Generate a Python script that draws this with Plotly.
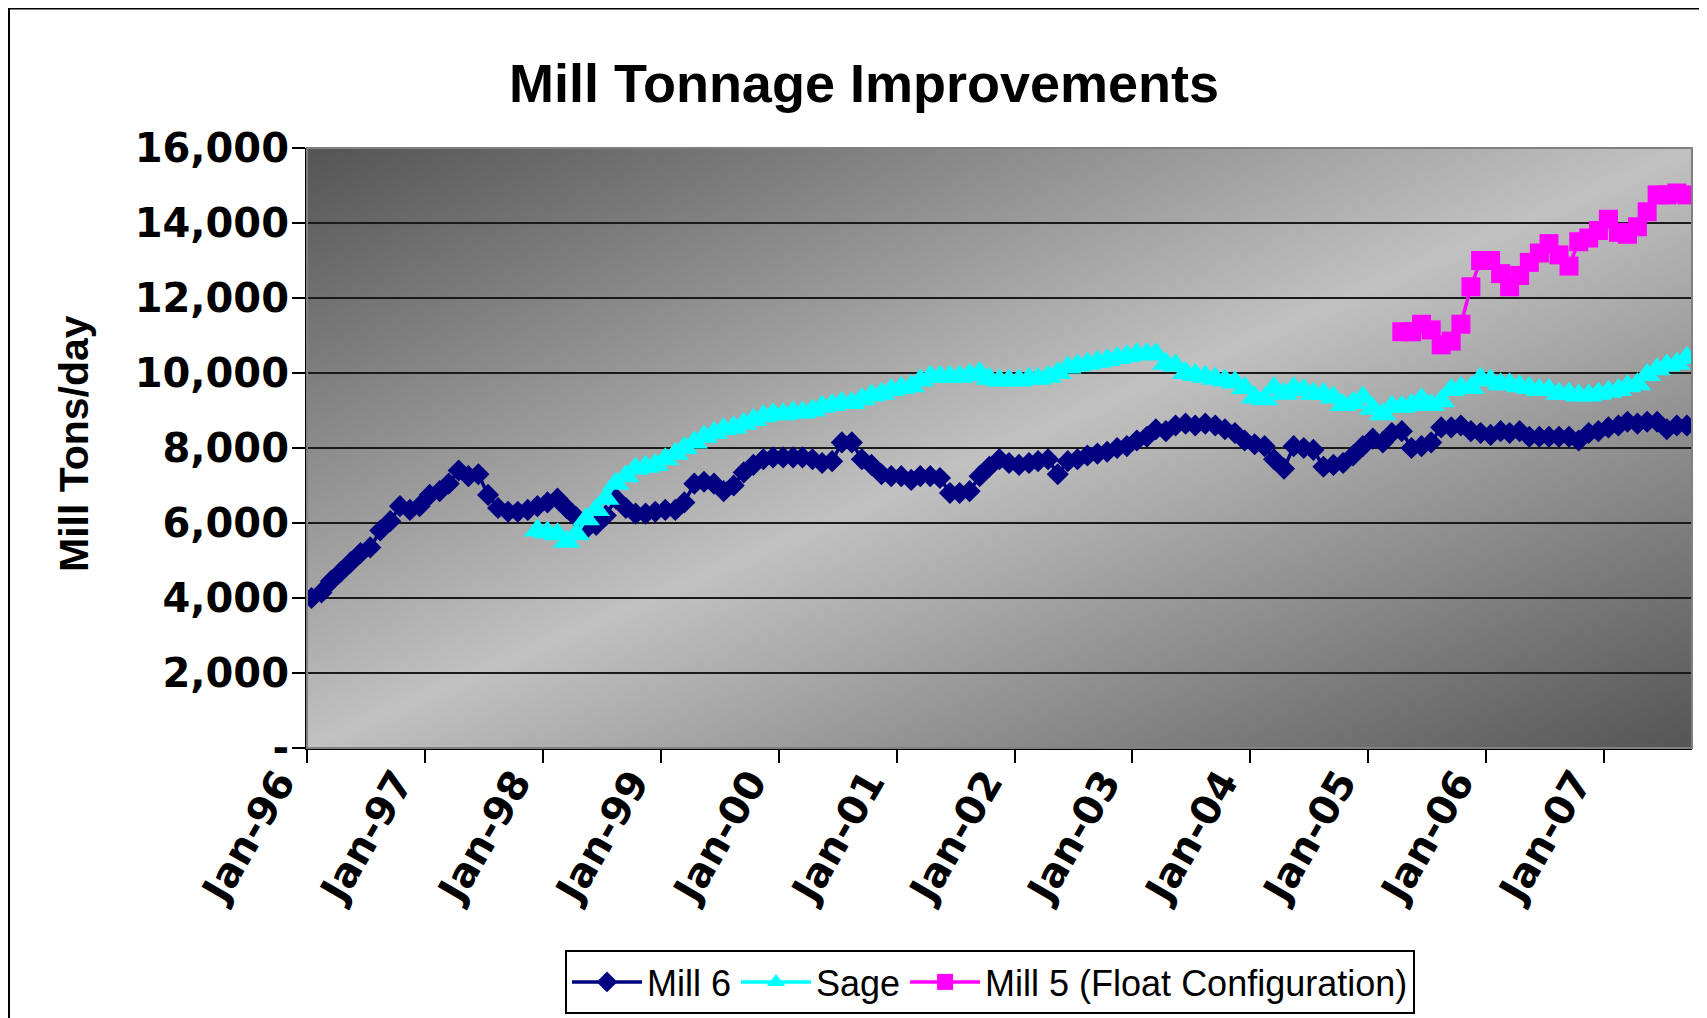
import zlib, struct, base64
import numpy as np
import pandas as pd
import plotly.graph_objects as go

# ---------------- data ----------------
mill6_start = "1996-01"
mill6 = [4000, 4150, 4450, 4700, 4950, 5200, 5350, 5800, 6050, 6450, 6350, 6450,
         6750, 6850, 7050, 7400, 7250, 7300, 6750, 6400, 6300, 6300, 6350, 6450,
         6550, 6650, 6400, 6150, 5850, 5950, 6200, 6650, 6400, 6250, 6250, 6300,
         6350, 6350, 6550, 7050, 7100, 7050, 6850, 7000, 7350, 7550, 7700, 7750,
         7750, 7750, 7750, 7700, 7600, 7650, 8150, 8150, 7700, 7550, 7300, 7250,
         7250, 7150, 7250, 7250, 7200, 6800, 6800, 6850, 7250, 7500, 7700, 7600,
         7550, 7600, 7650, 7700, 7300, 7650, 7700, 7800, 7850, 7900, 8000, 8050,
         8200, 8300, 8500, 8450, 8600, 8650, 8600, 8650, 8600, 8500, 8400, 8200,
         8100, 8050, 7700, 7450, 8050, 8000, 7950, 7500, 7550, 7600, 7800, 8050,
         8250, 8150, 8400, 8450, 8000, 8050, 8150, 8550, 8550, 8600, 8450, 8400,
         8350, 8450, 8400, 8450, 8300, 8300, 8300, 8300, 8300, 8200, 8400, 8450,
         8550, 8600, 8700, 8650, 8700, 8700, 8500, 8600, 8600]

sage_start = "1997-12"
sage = [5800, 5750, 5700, 5500, 5700, 6100, 6350, 6650, 7050, 7250, 7450, 7500,
        7550, 7700, 7850, 8000, 8150, 8300, 8400, 8500, 8550, 8650, 8750, 8850,
        8900, 8900, 8950, 8950, 9000, 9100, 9150, 9200, 9200, 9300, 9400, 9450,
        9550, 9600, 9650, 9800, 9900, 9900, 9900, 9900, 9950, 10000, 9850, 9800,
        9800, 9800, 9850, 9850, 9900, 10000, 10150, 10200, 10250, 10300, 10350, 10400,
        10450, 10500, 10500, 10500, 10250, 10200, 10000, 9950, 9900, 9850, 9800, 9750,
        9600, 9350, 9300, 9600, 9450, 9600, 9550, 9450, 9450, 9350, 9150, 9200,
        9350, 9050, 8900, 9100, 9100, 9150, 9300, 9150, 9250, 9550, 9600, 9600,
        9850, 9800, 9700, 9700, 9650, 9600, 9550, 9550, 9450, 9450, 9400, 9400,
        9450, 9500, 9550, 9650, 9700, 9950, 10100, 10200, 10250, 10400]

mill5_start = "2005-04"
mill5 = [11100, 11100, 11300, 11150, 10750, 10850, 11300, 12300, 13000, 13000,
         12650, 12300, 12600, 12950, 13200, 13450, 13150, 12850, 13500, 13600,
         13800, 14100, 13750, 13700, 13900, 14300, 14750, 14750, 14800, 14750]

series_names = ["Mill 6", "Sage", "Mill 5 (Float Configuration)"]
y_tick_values = [0, 2000, 4000, 6000, 8000, 10000, 12000, 14000, 16000]
y_tick_labels = ["-", "2,000", "4,000", "6,000", "8,000", "10,000", "12,000", "14,000", "16,000"]
x_tick_years = list(range(1996, 2008))
title_text = "Mill Tonnage Improvements"
y_title_text = "Mill Tons/day"


def month_dates(start, n):
    # monthly points, plotted mid-month
    return pd.date_range(start + "-01", periods=n, freq="MS") + pd.Timedelta(days=14)


# ---------------- gradient background (PNG built by hand) ----------------
def gradient_uri(w=346, h=150, dark=(86, 86, 86), light=(194, 194, 194)):
    ii, jj = np.meshgrid(np.linspace(0, 1, w), np.linspace(0, 1, h))
    t = (ii + jj) / 2.0
    s = 1 - np.abs(2 * t - 1)
    img = np.zeros((h, w, 3), dtype=np.uint8)
    for k in range(3):
        img[:, :, k] = np.clip(dark[k] + (light[k] - dark[k]) * s, 0, 255).astype(np.uint8)
    raw = b"".join(b"\x00" + img[r].tobytes() for r in range(h))

    def chunk(tag, data):
        c = struct.pack(">I", len(data)) + tag + data
        return c + struct.pack(">I", zlib.crc32(tag + data) & 0xFFFFFFFF)

    png = (b"\x89PNG\r\n\x1a\n"
           + chunk(b"IHDR", struct.pack(">IIBBBBB", w, h, 8, 2, 0, 0, 0))
           + chunk(b"IDAT", zlib.compress(raw, 9))
           + chunk(b"IEND", b""))
    return "data:image/png;base64," + base64.b64encode(png).decode()


FONT = "Arial, 'Liberation Sans', sans-serif"
TICKFONT = "'DejaVu Sans', Arial, sans-serif"

fig = go.Figure()
fig.add_trace(go.Scatter(
    x=month_dates(mill6_start, len(mill6)), y=mill6, name=series_names[0],
    mode="lines+markers", line=dict(color="#000080", width=3.5),
    marker=dict(symbol="diamond", size=17, color="#000080", line=dict(width=0))))
fig.add_trace(go.Scatter(
    x=month_dates(sage_start, len(sage)), y=sage, name=series_names[1],
    mode="lines+markers", line=dict(color="#00FFFF", width=3.5),
    marker=dict(symbol="triangle-up", size=24, color="#00FFFF", line=dict(width=0))))
fig.add_trace(go.Scatter(
    x=month_dates(mill5_start, len(mill5)), y=mill5, name=series_names[2],
    mode="lines+markers", line=dict(color="#FF00FF", width=3.5),
    marker=dict(symbol="square", size=19, color="#FF00FF", line=dict(width=0))))

# page body has an 8px margin, so the figure is laid out in shifted coordinates
OFF = 8
W, H = 1707 - OFF, 1018 - OFF
L, T = 307 - OFF, 148 - OFF
pw, ph = 1385, 600
R, B = W - L - pw, H - T - ph

fig.update_layout(
    width=W, height=H,
    margin=dict(l=L, r=R, t=T, b=B, autoexpand=False),
    paper_bgcolor="white", plot_bgcolor="rgba(0,0,0,0)",
    font=dict(family=FONT, color="black"),
    title=dict(text="<b>" + title_text + "</b>", x=(864 - OFF) / W, xanchor="center",
               y=1 - (83 - OFF) / H, yanchor="middle", xref="container", yref="container",
               font=dict(size=54, family=FONT, color="black")),
    showlegend=True,
    legend=dict(orientation="h", x=(565 - OFF - L) / pw, y=1 - (950 - OFF - T) / ph,
                xanchor="left", yanchor="top", bgcolor="white",
                bordercolor="black", borderwidth=2,
                font=dict(size=36, family=FONT, color="black"),
                itemwidth=70, tracegroupgap=0),
    images=[dict(source=gradient_uri(), xref="paper", yref="paper", x=0, y=1,
                 sizex=1, sizey=1, sizing="stretch", layer="below",
                 xanchor="left", yanchor="top")],
    annotations=[dict(text="<b>" + y_title_text + "</b>", textangle=-90,
                      xref="paper", yref="paper", x=(74 - OFF - L) / pw,
                      y=1 - (444 - OFF - T) / ph,
                      xanchor="center", yanchor="middle", showarrow=False,
                      font=dict(size=41, family=FONT, color="black"))],
    shapes=[
        # plot-area border
        dict(type="rect", xref="paper", yref="paper", x0=0, y0=0, x1=1, y1=1,
             line=dict(color="#808080", width=2), layer="above"),
        # chart-area border
        dict(type="rect", xref="paper", yref="paper",
             x0=(1 - L) / pw, y0=-1.0, x1=1.2, y1=1 + (T - 0.5) / ph,
             line=dict(color="black", width=2), layer="above"),
    ],
)

fig.update_xaxes(
    type="date", range=["1996-01-01", "2007-10-01"],
    tickvals=[f"{yr}-01-01" for yr in x_tick_years],
    ticktext=[f"Jan-{str(yr)[2:]}" for yr in x_tick_years],
    tickangle=-60, ticks="outside", ticklen=13, tickwidth=2, tickcolor="black",
    ticklabelshift=-28, ticklabelstandoff=-20,
    tickfont=dict(size=40, family=TICKFONT, color="black", weight="bold"),
    showgrid=False, zeroline=False, showline=True, linecolor="black", linewidth=2,
)
fig.update_yaxes(
    range=[0, 16000], tickvals=y_tick_values, ticktext=y_tick_labels,
    ticks="outside", ticklen=13, tickwidth=2, tickcolor="black",
    ticklabelstandoff=-5,
    tickfont=dict(size=40, family=TICKFONT, color="black", weight="bold"),
    showgrid=True, gridcolor="#1a1a1a", gridwidth=1.5,
    zeroline=False, showline=True, linecolor="black", linewidth=2,
)

fig.write_html("out.html")
